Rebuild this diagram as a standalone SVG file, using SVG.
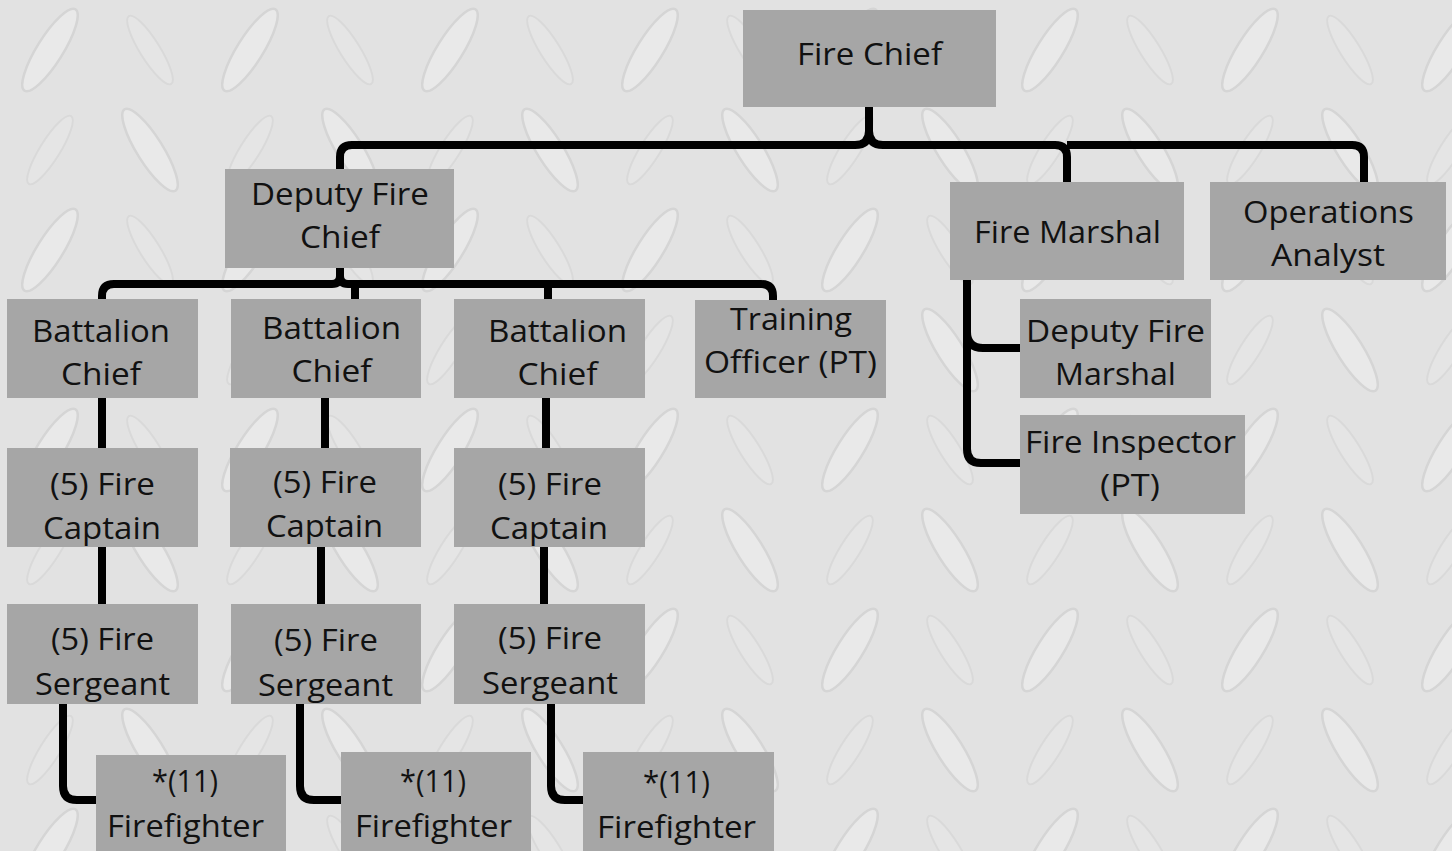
<svg xmlns="http://www.w3.org/2000/svg" width="1452" height="851" viewBox="0 0 1452 851">
<defs>
<pattern id="plate" x="0" y="0" width="200" height="200" patternUnits="userSpaceOnUse">
<ellipse cx="50" cy="50" rx="48" ry="13" transform="rotate(-58 50 50)" fill="#ebebeb" stroke="#d0d0d0" stroke-width="2.5"/>
<ellipse cx="150" cy="150" rx="48" ry="13" transform="rotate(58 150 150)" fill="#ebebeb" stroke="#d0d0d0" stroke-width="2.5"/>
<ellipse cx="150" cy="50" rx="40" ry="10" transform="rotate(58 150 50)" fill="#e6e6e6" stroke="#d6d6d6" stroke-width="2"/>
<ellipse cx="50" cy="150" rx="40" ry="10" transform="rotate(-58 50 150)" fill="#e6e6e6" stroke="#d6d6d6" stroke-width="2"/>
</pattern>
<style>
.box{fill:#a6a6a6}
.t{font-family:"Open Sans","Noto Sans","Liberation Sans",sans-serif;font-size:31px;fill:#111;text-anchor:middle}
.c{fill:none;stroke:#000;stroke-width:8;stroke-linecap:butt;stroke-linejoin:round}
</style>
</defs>
<rect x="0" y="0" width="1452" height="851" fill="#e2e2e2"/>
<rect x="0" y="0" width="1452" height="851" fill="url(#plate)" opacity="0.75"/>

<g id="connectors">
<path class="c" d="M869 107 V131 Q869 145 855 145 H352 Q340 145 340 157 V169"/>
<path class="c" d="M869 131 Q869 145 883 145 H1055 Q1067 145 1067 157 V182"/>
<path class="c" d="M1067 145 H1352 Q1364 145 1364 157 V182"/>
<path class="c" d="M340 268 V276 Q340 284 332 284 H114 Q102 284 102 296 V299"/>
<path class="c" d="M340 276 Q340 284 348 284 H761 Q773 284 773 296 V300"/>
<path class="c" d="M355 284 V299"/>
<path class="c" d="M548 284 V299"/>
<path class="c" d="M102 398 V448"/>
<path class="c" d="M325 398 V448"/>
<path class="c" d="M546 398 V448"/>
<path class="c" d="M102 547 V604"/>
<path class="c" d="M321 547 V604"/>
<path class="c" d="M544 547 V604"/>
<path class="c" d="M63 704 V786 Q63 800 77 800 H96"/>
<path class="c" d="M300 704 V786 Q300 800 314 800 H341"/>
<path class="c" d="M551 704 V786 Q551 800 565 800 H583"/>
<path class="c" d="M967 280 V449 Q967 463 981 463 H1020"/>
<path class="c" d="M967 332 Q967 348 983 348 H1020"/>
</g>

<g id="fire-chief"><rect class="box" x="743" y="10" width="253" height="97"/><text class="t" x="869.5" y="65" textLength="145" lengthAdjust="spacingAndGlyphs">Fire Chief</text></g>
<g id="deputy-fire-chief"><rect class="box" x="225" y="169" width="229" height="99"/><text class="t" x="340" y="205" textLength="178" lengthAdjust="spacingAndGlyphs">Deputy Fire</text><text class="t" x="340" y="248" textLength="80" lengthAdjust="spacingAndGlyphs">Chief</text></g>
<g id="fire-marshal"><rect class="box" x="950" y="182" width="234" height="98"/><text class="t" x="1067.5" y="243" textLength="187" lengthAdjust="spacingAndGlyphs">Fire Marshal</text></g>
<g id="operations-analyst"><rect class="box" x="1210" y="182" width="236" height="98"/><text class="t" x="1328.5" y="223" textLength="171" lengthAdjust="spacingAndGlyphs">Operations</text><text class="t" x="1328" y="266" textLength="114" lengthAdjust="spacingAndGlyphs">Analyst</text></g>

<g id="battalion-chief-1"><rect class="box" x="7" y="299" width="191" height="99"/><text class="t" x="101" y="342" textLength="138" lengthAdjust="spacingAndGlyphs">Battalion</text><text class="t" x="101" y="385" textLength="80" lengthAdjust="spacingAndGlyphs">Chief</text></g>
<g id="battalion-chief-2"><rect class="box" x="231" y="299" width="190" height="99"/><text class="t" x="331.5" y="339" textLength="139" lengthAdjust="spacingAndGlyphs">Battalion</text><text class="t" x="331.5" y="382" textLength="80" lengthAdjust="spacingAndGlyphs">Chief</text></g>
<g id="battalion-chief-3"><rect class="box" x="454" y="299" width="191" height="99"/><text class="t" x="557.5" y="342" textLength="139" lengthAdjust="spacingAndGlyphs">Battalion</text><text class="t" x="557.5" y="385" textLength="80" lengthAdjust="spacingAndGlyphs">Chief</text></g>
<g id="training-officer"><rect class="box" x="695" y="300" width="191" height="98"/><text class="t" x="791" y="330" textLength="122" lengthAdjust="spacingAndGlyphs">Training</text><text class="t" x="790.5" y="373" textLength="173" lengthAdjust="spacingAndGlyphs">Officer (PT)</text></g>
<g id="deputy-fire-marshal"><rect class="box" x="1020" y="299" width="191" height="99"/><text class="t" x="1115.5" y="342" textLength="179" lengthAdjust="spacingAndGlyphs">Deputy Fire</text><text class="t" x="1115.5" y="385" textLength="121" lengthAdjust="spacingAndGlyphs">Marshal</text></g>
<g id="fire-inspector"><rect class="box" x="1020" y="415" width="225" height="99"/><text class="t" x="1130.5" y="453" textLength="211" lengthAdjust="spacingAndGlyphs">Fire Inspector</text><text class="t" x="1130" y="496" textLength="60" lengthAdjust="spacingAndGlyphs">(PT)</text></g>

<g id="fire-captain-1"><rect class="box" x="7" y="448" width="191" height="99"/><text class="t" x="102.5" y="495" textLength="105" lengthAdjust="spacingAndGlyphs">(5) Fire</text><text class="t" x="102" y="539" textLength="118" lengthAdjust="spacingAndGlyphs">Captain</text></g>
<g id="fire-captain-2"><rect class="box" x="230" y="448" width="191" height="99"/><text class="t" x="325" y="493" textLength="104" lengthAdjust="spacingAndGlyphs">(5) Fire</text><text class="t" x="324.5" y="537" textLength="117" lengthAdjust="spacingAndGlyphs">Captain</text></g>
<g id="fire-captain-3"><rect class="box" x="454" y="448" width="191" height="99"/><text class="t" x="550" y="495" textLength="104" lengthAdjust="spacingAndGlyphs">(5) Fire</text><text class="t" x="549" y="539" textLength="118" lengthAdjust="spacingAndGlyphs">Captain</text></g>

<g id="fire-sergeant-1"><rect class="box" x="7" y="604" width="191" height="100"/><text class="t" x="102.5" y="650" textLength="103" lengthAdjust="spacingAndGlyphs">(5) Fire</text><text class="t" x="102.5" y="695" textLength="135" lengthAdjust="spacingAndGlyphs">Sergeant</text></g>
<g id="fire-sergeant-2"><rect class="box" x="231" y="604" width="190" height="100"/><text class="t" x="326" y="651" textLength="104" lengthAdjust="spacingAndGlyphs">(5) Fire</text><text class="t" x="325.5" y="696" textLength="135" lengthAdjust="spacingAndGlyphs">Sergeant</text></g>
<g id="fire-sergeant-3"><rect class="box" x="454" y="604" width="191" height="100"/><text class="t" x="550" y="649" textLength="104" lengthAdjust="spacingAndGlyphs">(5) Fire</text><text class="t" x="550" y="694" textLength="136" lengthAdjust="spacingAndGlyphs">Sergeant</text></g>

<g id="firefighter-1"><rect class="box" x="96" y="755" width="190" height="96"/><text class="t" x="185" y="792" textLength="66" lengthAdjust="spacingAndGlyphs">*(11)</text><text class="t" x="185.5" y="837" textLength="157" lengthAdjust="spacingAndGlyphs">Firefighter</text></g>
<g id="firefighter-2"><rect class="box" x="341" y="752" width="190" height="99"/><text class="t" x="433" y="792" textLength="66" lengthAdjust="spacingAndGlyphs">*(11)</text><text class="t" x="433.5" y="837" textLength="157" lengthAdjust="spacingAndGlyphs">Firefighter</text></g>
<g id="firefighter-3"><rect class="box" x="583" y="752" width="191" height="99"/><text class="t" x="676.5" y="793" textLength="67" lengthAdjust="spacingAndGlyphs">*(11)</text><text class="t" x="676.5" y="838" textLength="159" lengthAdjust="spacingAndGlyphs">Firefighter</text></g>
</svg>
